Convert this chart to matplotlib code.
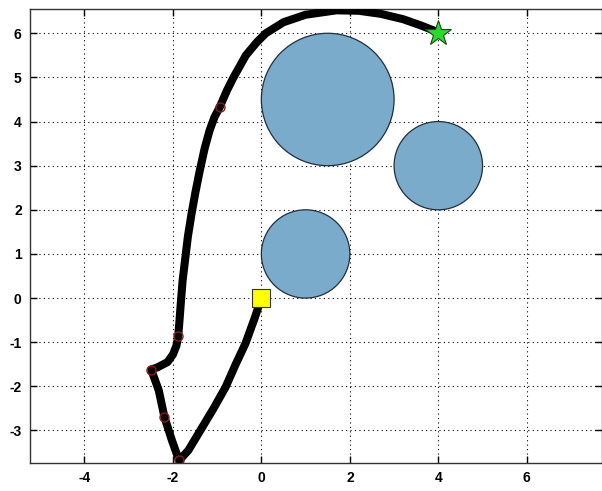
import matplotlib
matplotlib.use("Agg")
import matplotlib.pyplot as plt
from matplotlib.patches import Circle

# Obstacles (center x, center y, radius)
obs_x = [1.0, 4.0, 1.5]
obs_y = [1.0, 3.0, 4.5]
obs_r = [1.0, 1.0, 1.5]

# Path (start -> goal)
path_x = [0.0, -0.15, -0.36, -0.58, -0.81, -1.08, -1.38, -1.65, -1.86,
          -2.02, -2.19, -2.32, -2.49,
          -2.35, -2.12, -2.0, -1.92, -1.88,
          -1.85, -1.82, -1.78, -1.72, -1.66, -1.58, -1.49, -1.39, -1.28,
          -1.17, -1.06, -0.94, -0.78, -0.63, -0.35, -0.1, 0.1, 0.5,
          1.0, 1.7, 2.2, 2.7, 3.2, 3.6, 3.98]
path_y = [0.0, -0.45, -1.03, -1.5, -2.02, -2.5, -3.0, -3.45, -3.68,
          -3.23, -2.70, -2.09, -1.62,
          -1.57, -1.45, -1.28, -1.08, -0.87,
          -0.5, -0.1, 0.4, 0.9, 1.4, 1.9, 2.4, 2.9, 3.4,
          3.8, 4.1, 4.33, 4.7, 5.0, 5.5, 5.8, 6.0, 6.25,
          6.42, 6.52, 6.51, 6.44, 6.32, 6.18, 6.03]

# Waypoint markers
wp_x = [-1.86, -2.19, -2.49, -1.88, -0.94]
wp_y = [-3.68, -2.70, -1.62, -0.87, 4.33]

start = (0.0, 0.0)
goal = (4.0, 6.0)

x_ticks = [-4, -2, 0, 2, 4, 6]
y_ticks = [-3, -2, -1, 0, 1, 2, 3, 4, 5, 6]

fig = plt.figure(figsize=(6.02, 4.91), dpi=100)
ax = fig.add_axes([30/602, (491-462.7)/491, 572/602, (462.7-9)/491])

for cx, cy, r in zip(obs_x, obs_y, obs_r):
    ax.add_patch(Circle((cx, cy), r, facecolor='#7BABCB', edgecolor='#1f2f3f',
                        linewidth=0.9, zorder=2))

ax.plot(path_x, path_y, color='black', linewidth=5.8, solid_capstyle='round',
        solid_joinstyle='round', zorder=3)
ax.plot(wp_x, wp_y, linestyle='none', marker='o', markersize=6.5,
        markerfacecolor='none', markeredgecolor='#8b1a1a', markeredgewidth=1.0, zorder=4)
ax.plot([start[0]], [start[1]], marker='s', markersize=13, markerfacecolor='#FFFF00',
        markeredgecolor='#333333', markeredgewidth=0.8, linestyle='none', zorder=5)
ax.plot([goal[0]], [goal[1]], marker='*', markersize=19, markerfacecolor='#2BD82B',
        markeredgecolor='#1a4a1a', markeredgewidth=0.8, linestyle='none', zorder=5)

ax.set_xlim(-5.23, 7.7)
ax.set_ylim(-3.73, 6.55)
ax.set_aspect('auto')
ax.set_xticks(x_ticks)
ax.set_yticks(y_ticks)
ax.set_xticklabels([str(t) for t in x_ticks], fontweight='bold', fontsize=10,
                   family=['Liberation Sans', 'DejaVu Sans'])
ax.set_yticklabels([str(t) for t in y_ticks], fontweight='bold', fontsize=10,
                   family=['Liberation Sans', 'DejaVu Sans'])
ax.tick_params(direction='in', length=5, width=1, top=True, right=True, pad=6)
ax.grid(True, linestyle=(0, (1, 3)), color='black', linewidth=0.8)
ax.set_axisbelow(True)
for s in ax.spines.values():
    s.set_linewidth(1.0)
    s.set_color('#333333')

fig.savefig('out.png', dpi=100)
